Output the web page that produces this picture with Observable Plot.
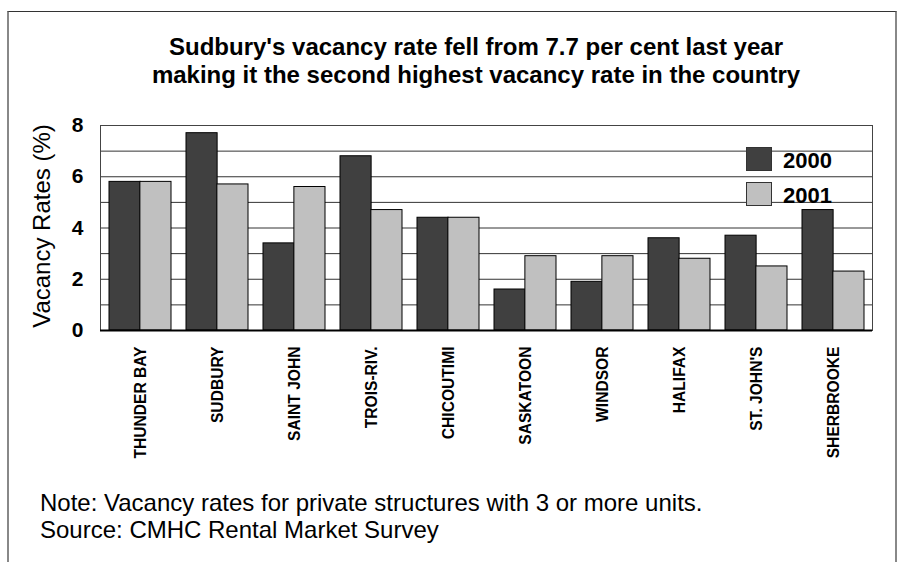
<!DOCTYPE html>
<html>
<head>
<meta charset="utf-8">
<script src="https://cdn.jsdelivr.net/npm/d3@7"></script>
<script src="https://cdn.jsdelivr.net/npm/@observablehq/plot@0.6"></script>
<style>
  html, body { margin: 0; padding: 0; background: #fff; }
  body { font-family: Arial, "Liberation Sans", sans-serif; }
  #wrap { position: relative; width: 901px; height: 562px; overflow: hidden; background: #fff; }
  #border { position: absolute; left: 7px; top: 11px; width: 886px; height: 600px;
            border-left: 2px solid #888; border-right: 2px solid #888; border-top: 1px solid #333; }
  #title { position: absolute; left: 0; width: 952px; top: 33px; text-align: center;
           font-weight: bold; font-size: 24px; line-height: 28px; color: #000; }
  #ylabel { position: absolute; left: 42px; top: 226px; transform: translate(-50%, -50%) rotate(-90deg);
            white-space: nowrap; font-size: 24px; color: #000; }
  #note { position: absolute; left: 40px; top: 489px; font-size: 24px; line-height: 27px; color: #000; white-space: nowrap; }
  #chart { position: absolute; left: 0; top: 110px; }
  .sw { position: absolute; width: 24px; height: 22px; border: 1px solid #333; }
  .lt { position: absolute; font-weight: bold; font-size: 22px; line-height: 22px; color: #000; }
  #chart g[aria-label^="x-axis"] text { font: bold 15.6px Arial, "Liberation Sans", sans-serif; fill: #000; }
  #chart g[aria-label^="y-axis"] text { font: bold 21px Arial, "Liberation Sans", sans-serif; fill: #000; }
</style>
</head>
<body>
<div id="wrap">
  <div id="border"></div>
  <div id="title"></div>
  <div id="ylabel"></div>
  <div id="chart"></div>
  <div id="legend"></div>
  <div id="note"></div>
</div>
<script>
const titleLines = [
  "Sudbury's vacancy rate fell from 7.7 per cent last year",
  "making it the second highest vacancy rate in the country"
];
const yLabel = "Vacancy Rates (%)";
const noteLines = [
  "Note: Vacancy rates for private structures with 3 or more units.",
  "Source: CMHC Rental Market Survey"
];
const cities = ["THUNDER BAY", "SUDBURY", "SAINT JOHN", "TROIS-RIV.", "CHICOUTIMI",
                "SASKATOON", "WINDSOR", "HALIFAX", "ST. JOHN'S", "SHERBROOKE"];
const years = ["2000", "2001"];
const rates2000 = [5.8, 7.7, 3.4, 6.8, 4.4, 1.6, 1.9, 3.6, 3.7, 4.7];
const rates2001 = [5.8, 5.7, 5.6, 4.7, 4.4, 2.9, 2.9, 2.8, 2.5, 2.3];
const yTicks = [0, 2, 4, 6, 8];
const gridValues = [1, 2, 3, 4, 5, 6, 7];
const colors = ["#404040", "#c0c0c0"];

document.getElementById("title").innerHTML = titleLines.join("<br>");
document.getElementById("ylabel").textContent = yLabel;
document.getElementById("note").innerHTML = noteLines.join("<br>");

const data2000 = cities.map((c, i) => ({city: c, value: rates2000[i]}));
const data2001 = cities.map((c, i) => ({city: c, value: rates2001[i]}));

const W = 901, H = 360, mL = 100, mR = 29, mT = 15, mB = 140;
const pIn = 0.2, pOut = 0.1;
const step = (W - mL - mR) / (cities.length - pIn + 2 * pOut);
const half = step * (1 - pIn) / 2;

const chart = Plot.plot({
  width: W, height: H,
  marginLeft: mL, marginRight: mR, marginTop: mT, marginBottom: mB,
  style: {background: "transparent", overflow: "visible"},
  x: {domain: cities, paddingInner: pIn, paddingOuter: pOut, tickRotate: -90, tickSize: 0, tickPadding: 16, label: null},
  y: {domain: [0, 8], ticks: yTicks, tickSize: 0, tickPadding: 17, label: null},
  marks: [
    Plot.ruleY(gridValues, {stroke: "#333", strokeWidth: 1}),
    Plot.barY(data2000, {x: "city", y: "value", fill: colors[0], stroke: "#000", strokeWidth: 1, insetRight: half}),
    Plot.barY(data2001, {x: "city", y: "value", fill: colors[1], stroke: "#000", strokeWidth: 1, insetLeft: half}),
    Plot.frame({stroke: "#444", strokeWidth: 1}),
    Plot.ruleY([0], {stroke: "#000", strokeWidth: 2})
  ]
});
document.getElementById("chart").appendChild(chart);

const legend = document.getElementById("legend");
years.forEach((yr, i) => {
  const sw = document.createElement("div");
  sw.className = "sw";
  sw.style.left = "746px";
  sw.style.top = (147 + i * 35) + "px";
  sw.style.background = colors[i];
  legend.appendChild(sw);
  const t = document.createElement("div");
  t.className = "lt";
  t.style.left = "783px";
  t.style.top = (150 + i * 35) + "px";
  t.textContent = yr;
  legend.appendChild(t);
});
</script>
</body>
</html>
